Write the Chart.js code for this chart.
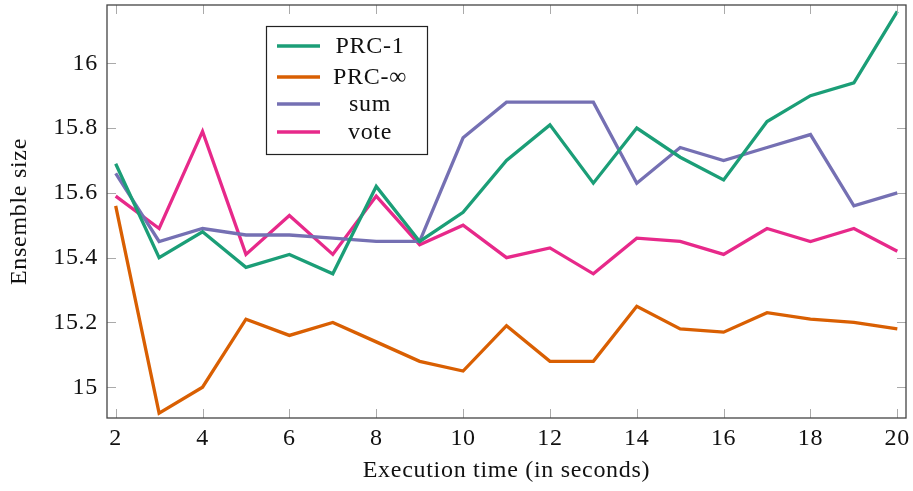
<!DOCTYPE html>
<html>
<head>
<meta charset="utf-8">
<script src="https://cdn.jsdelivr.net/npm/chart.js@4/dist/chart.umd.min.js"></script>
<style>
html,body{margin:0;padding:0;background:#fff;}
#wrap{width:913px;height:491px;position:relative;}
</style>
</head>
<body>
<div id="wrap"><canvas id="c" width="913" height="491"></canvas></div>
<script>
// ---- data ----
const times = [2,3,4,5,6,7,8,9,10,11,12,13,14,15,16,17,18,19,20];
const prc1   = [15.69,15.40,15.48,15.37,15.41,15.35,15.62,15.45,15.54,15.70,15.81,15.63,15.80,15.71,15.64,15.82,15.90,15.94,16.16];
const prcInf = [15.56,14.92,15.00,15.21,15.16,15.20,15.14,15.08,15.05,15.19,15.08,15.08,15.25,15.18,15.17,15.23,15.21,15.20,15.18];
const sumS   = [15.66,15.45,15.49,15.47,15.47,15.46,15.45,15.45,15.77,15.88,15.88,15.88,15.63,15.74,15.70,15.74,15.78,15.56,15.60];
const vote   = [15.59,15.49,15.79,15.41,15.53,15.41,15.59,15.44,15.50,15.40,15.43,15.35,15.46,15.45,15.41,15.49,15.45,15.49,15.42];
const seriesNames = ['PRC-1','PRC-\u221E','sum','vote'];
const xTicks = [2,4,6,8,10,12,14,16,18,20];
const yTicks = [15,15.2,15.4,15.6,15.8,16];
const xTitle = 'Execution time (in seconds)';
const yTitle = 'Ensemble size';

const colors = ['#1b9e77','#d95f02','#7570b3','#e7298a'];
const FONT = '"Liberation Serif", "DejaVu Serif", serif';
const FS = 24;

function pts(arr){ return times.map((t,i)=>({x:t,y:arr[i]})); }
const allSeries = [prc1, prcInf, sumS, vote];

const spacing = {
  id:'spacing',
  beforeDraw(chart){ try{ chart.ctx.letterSpacing = '0.7px'; }catch(e){} }
};

const frame = {
  id:'frame',
  afterDatasetsDraw(chart){
    const {ctx, chartArea:a, scales:{x,y}} = chart;
    ctx.save();
    ctx.strokeStyle = '#aaaaaa';
    ctx.lineWidth = 1;
    const L = 9;
    ctx.beginPath();
    xTicks.forEach(v=>{
      const px = Math.round(x.getPixelForValue(v))+0.5;
      ctx.moveTo(px,a.bottom); ctx.lineTo(px,a.bottom-L);
      ctx.moveTo(px,a.top); ctx.lineTo(px,a.top+L);
    });
    yTicks.forEach(v=>{
      const py = Math.round(y.getPixelForValue(v))+0.5;
      ctx.moveTo(a.left,py); ctx.lineTo(a.left+L,py);
      ctx.moveTo(a.right,py); ctx.lineTo(a.right-L,py);
    });
    ctx.stroke();
    ctx.strokeStyle = '#444444';
    ctx.lineWidth = 1.3;
    ctx.strokeRect(a.left, a.top, a.right-a.left, a.bottom-a.top);
    // legend
    const lx = 266, ly = 26, lw = 161, lh = 128;
    ctx.fillStyle = '#fff';
    ctx.fillRect(lx,ly,lw,lh);
    ctx.strokeStyle = '#222';
    ctx.lineWidth = 1.2;
    ctx.strokeRect(lx+0.5,ly+0.5,lw,lh);
    const rows = [46, 77, 104, 132];
    ctx.font = FS + 'px ' + FONT;
    ctx.textAlign = 'center';
    ctx.textBaseline = 'middle';
    seriesNames.forEach((n,i)=>{
      ctx.strokeStyle = colors[i];
      ctx.lineWidth = 3.5;
      ctx.beginPath();
      ctx.moveTo(277, rows[i]); ctx.lineTo(320, rows[i]);
      ctx.stroke();
      ctx.fillStyle = '#111';
      ctx.fillText(n, 370, rows[i]+1);
    });
    ctx.restore();
  }
};

new Chart(document.getElementById('c'), {
  type:'line',
  data:{
    datasets: allSeries.map((s,i)=>({
      label: seriesNames[i],
      data: pts(s),
      borderColor: colors[i],
      backgroundColor: colors[i],
      borderWidth: 3.3,
      pointRadius: 0,
      tension: 0,
      fill:false
    }))
  },
  options:{
    responsive:false,
    animation:false,
    layout:{padding:{top:5,right:7,left:0,bottom:0}},
    plugins:{legend:{display:false}, tooltip:{enabled:false}},
    scales:{
      x:{
        type:'linear', min:1.8, max:20.2,
        afterBuildTicks(s){ s.ticks = xTicks.map(v=>({value:v})); },
        afterFit(s){ s.height = 73; s.paddingLeft = 0; s.paddingRight = 0; },
        grid:{display:false, drawTicks:false},
        border:{display:false},
        ticks:{color:'#111', padding:6, maxRotation:0, autoSkip:false, font:{family:FONT, size:FS}},
        title:{display:true, text:xTitle, color:'#111', font:{family:FONT, size:FS}, padding:{top:0,bottom:6}}
      },
      y:{
        type:'linear', min:14.905, max:16.18,
        afterBuildTicks(s){ s.ticks = yTicks.map(v=>({value:v})); },
        afterFit(s){ s.width = 107; s.paddingTop = 0; s.paddingBottom = 0; },
        grid:{display:false, drawTicks:false},
        border:{display:false},
        ticks:{color:'#111', padding:9, autoSkip:false, font:{family:FONT, size:FS},
          callback:(v)=> String(Math.round(v*10)/10)},
        title:{display:true, text:yTitle, color:'#111', font:{family:FONT, size:FS}, padding:{top:5,bottom:0}}
      }
    }
  },
  plugins:[spacing, frame]
});
</script>
</body>
</html>
